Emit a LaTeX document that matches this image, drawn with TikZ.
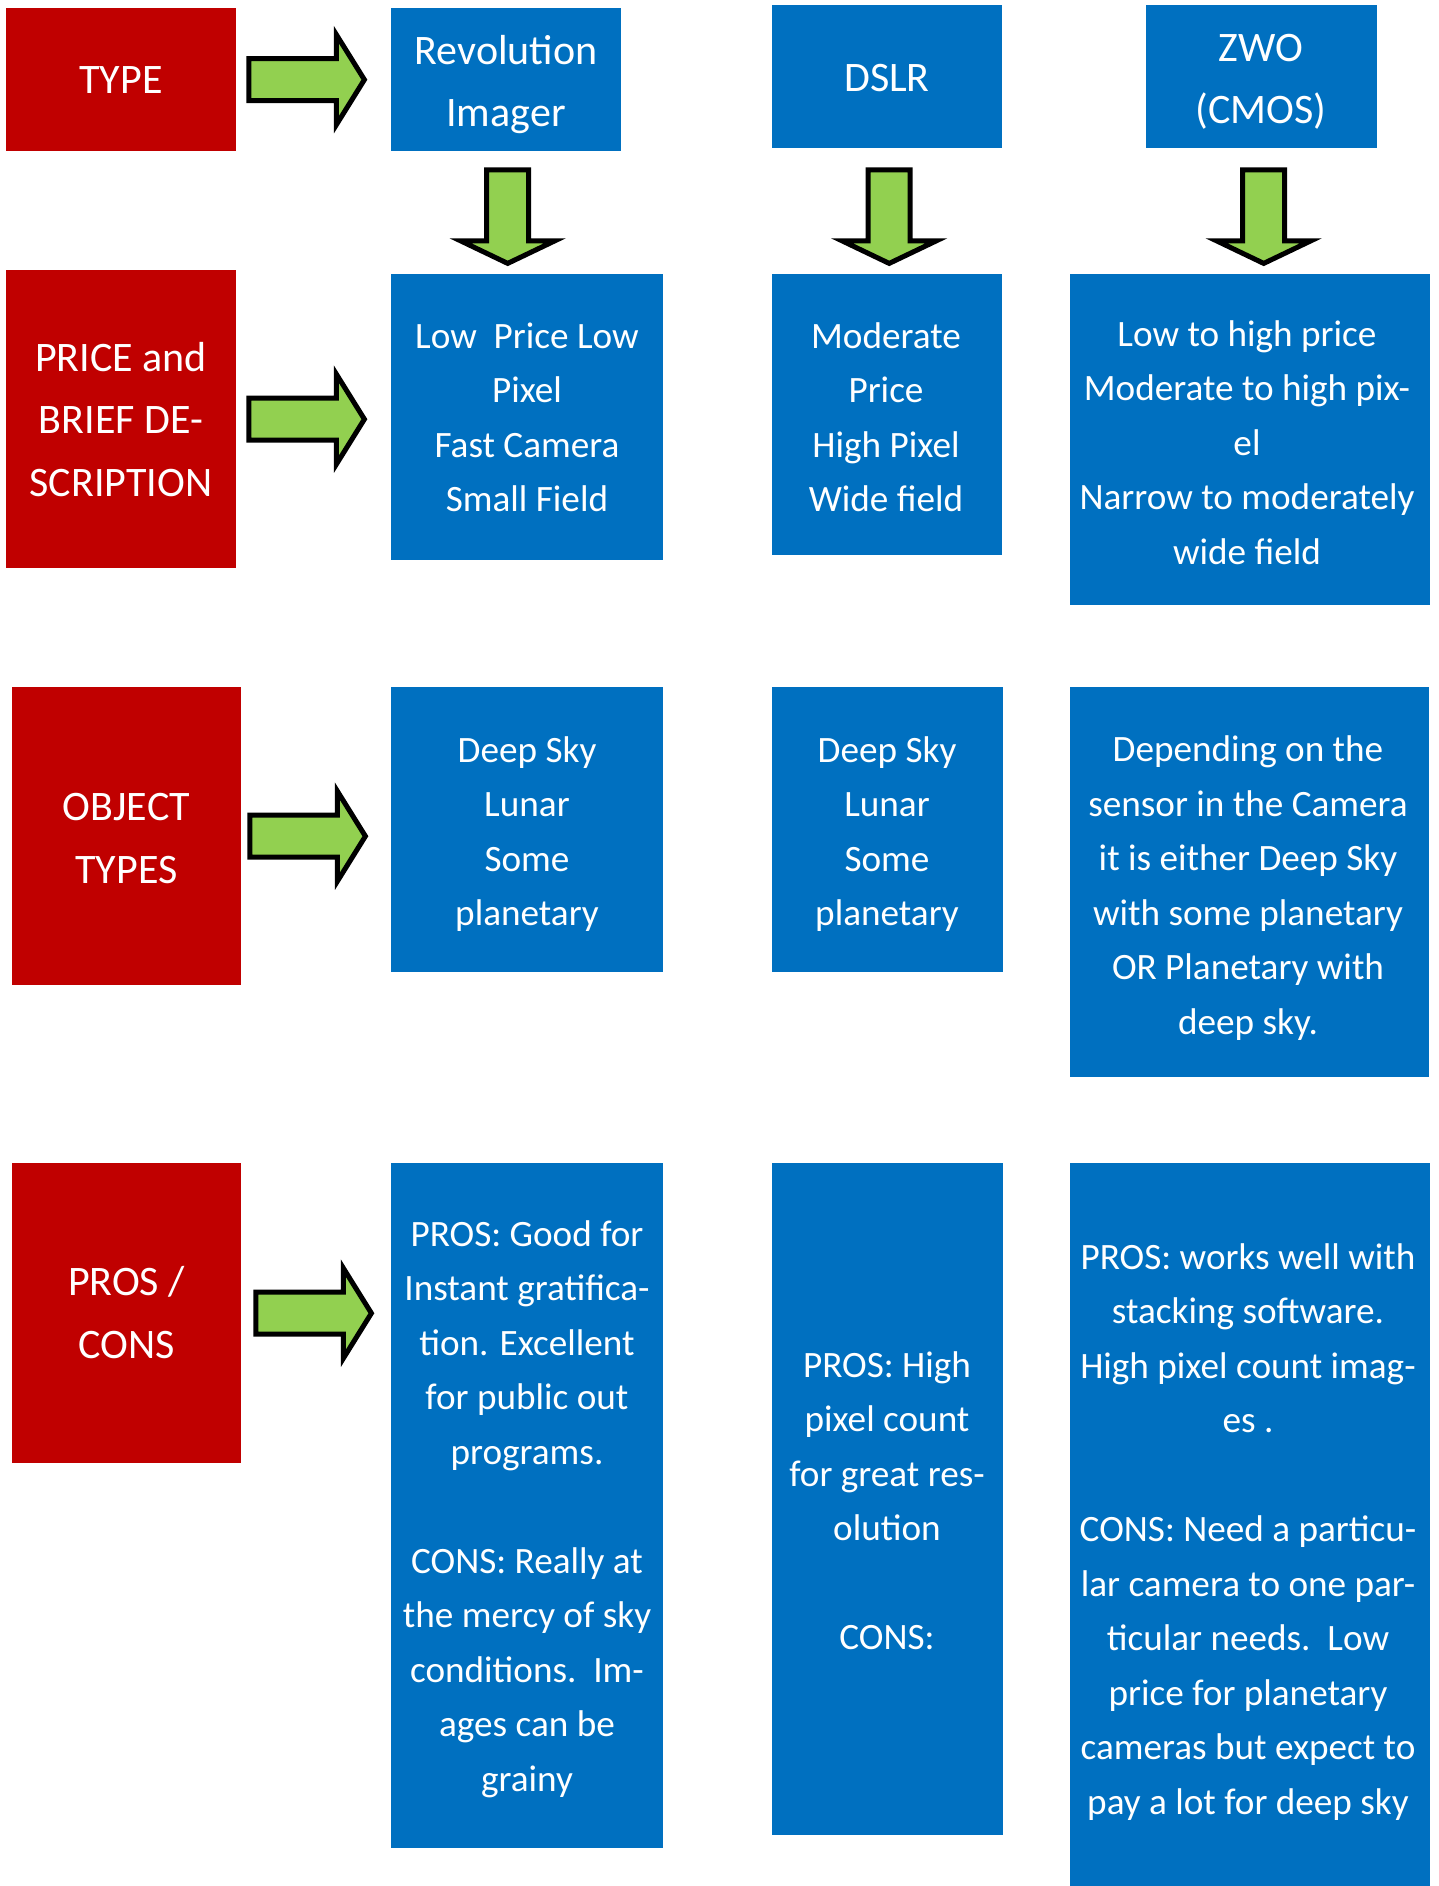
\documentclass[tikz,border=0pt]{standalone}
\usepackage{fontspec}
\setmainfont{Carlito}
\definecolor{cellred}{HTML}{C00000}
\definecolor{cellblue}{HTML}{0070C0}
\definecolor{arrowgreen}{HTML}{92D050}
\tikzset{
  redcell/.style={fill=cellred, anchor=north west, inner sep=0pt},
  bluecell/.style={fill=cellblue, anchor=north west, inner sep=0pt},
  celltext/.style={text=white, align=center, inner sep=0pt, anchor=base, font=\fontsize{37.2}{54.5}\selectfont},
  headtext/.style={celltext, font=\fontsize{42}{62.5}\selectfont},
  blockarr/.style={fill=arrowgreen, draw=black, line width=5pt, line join=miter}
}
\newcommand{\greenright}[1]{%
  \draw[blockarr, shift={(#1)}] (2.5,-21) -- (90,-21) -- (90,-45) -- (118,0) -- (90,45) -- (90,21) -- (2.5,21) -- cycle;}
\newcommand{\greendown}[1]{%
  \draw[blockarr, shift={(#1)}] (-21,2.5) -- (21,2.5) -- (21,73.5) -- (47,73.5) -- (0,96) -- (-47,73.5) -- (-21,73.5) -- cycle;}
\begin{document}
\begin{tikzpicture}[x=1pt, y=-1pt]
    \useasboundingbox (0,0) rectangle (1439,1886);
    \node[redcell, minimum width=230, minimum height=143] (type) at (6,8) {};
    \node[redcell, minimum width=230, minimum height=298] (price) at (6,270) {};
    \node[redcell, minimum width=229, minimum height=298] (objtypes) at (12,687) {};
    \node[redcell, minimum width=229, minimum height=300] (proscons) at (12,1163) {};
    \node[headtext] (typetxt) at (121,94) {TYPE};
    \node[headtext] (pricetxt) at (121,496) {PRICE and\\BRIEF DE-\\SCRIPTION};
    \node[headtext] (objtypestxt) at (126.5,883) {OBJECT\\TYPES};
    \node[headtext] (prosconstxt) at (126.5,1358) {PROS /\\CONS};
    \node[bluecell, minimum width=230, minimum height=143] (rev1) at (391,8) {};
    \node[bluecell, minimum width=230, minimum height=143] (dslr1) at (772,5) {};
    \node[bluecell, minimum width=231, minimum height=143] (zwo1) at (1146,5) {};
    \node[headtext] (rev1txt) at (506,127) {Revolution\\Imager};
    \node[headtext] (dslr1txt) at (887,92) {DSLR};
    \node[headtext] (zwo1txt) at (1261,124) {ZWO\\(CMOS)};
    \node[bluecell, minimum width=272, minimum height=286] (rev2) at (391,274) {};
    \node[bluecell, minimum width=230, minimum height=281] (dslr2) at (772,274) {};
    \node[bluecell, minimum width=360, minimum height=331] (zwo2) at (1070,274) {};
    \node[celltext] (rev2txt) at (527,511.5) {Low\ \ Price Low\\Pixel\\Fast Camera\\Small Field};
    \node[celltext] (dslr2txt) at (886,511.5) {Moderate\\Price\\High Pixel\\Wide field};
    \node[celltext] (zwo2txt) at (1247,564) {Low to high price\\Moderate to high pix-\\el\\Narrow to moderately\\wide field};
    \node[bluecell, minimum width=272, minimum height=285] (rev3) at (391,687) {};
    \node[bluecell, minimum width=231, minimum height=285] (dslr3) at (772,687) {};
    \node[bluecell, minimum width=359, minimum height=390] (zwo3) at (1070,687) {};
    \node[celltext] (rev3txt) at (527,925.5) {Deep Sky\\Lunar\\Some\\planetary};
    \node[celltext] (dslr3txt) at (887,925.5) {Deep Sky\\Lunar\\Some\\planetary};
    \node[celltext] (zwo3txt) at (1248,1034) {Depending on the\\sensor in the Camera\\it is either Deep Sky\\with some planetary\\OR Planetary with\\deep sky.};
    \node[bluecell, minimum width=272, minimum height=685] (rev4) at (391,1163) {};
    \node[bluecell, minimum width=231, minimum height=672] (dslr4) at (772,1163) {};
    \node[bluecell, minimum width=360, minimum height=723] (zwo4) at (1070,1163) {};
    \node[celltext] (rev4txt) at (527,1791) {PROS: Good for\\Instant gratifica-\\tion. Excellent\\for public out\\programs.\\[54.5pt]CONS: Really at\\the mercy of sky\\conditions.\ \ Im-\\ages can be\\grainy};
    \node[celltext] (dslr4txt) at (887,1649.5) {PROS: High\\pixel count\\for great res-\\olution\\[54.5pt]CONS:};
    \node[celltext] (zwo4txt) at (1248,1814) {PROS: works well with\\stacking software.\\High pixel count imag-\\es .\\[54.5pt]CONS: Need a particu-\\lar camera to one par-\\ticular needs.\ \ Low\\price for planetary\\cameras but expect to\\pay a lot for deep sky};
    \greenright{[xshift=10]type.east}
    \greenright{[xshift=10]price.east}
    \greenright{[xshift=6]objtypes.east}
    \greenright{[xshift=12]proscons.east}
    \greendown{[xshift=1.5,yshift=-16]rev1.south}
    \greendown{[xshift=2,yshift=-19]dslr1.south}
    \greendown{[xshift=2,yshift=-19]zwo1.south}
\end{tikzpicture}
\end{document}
